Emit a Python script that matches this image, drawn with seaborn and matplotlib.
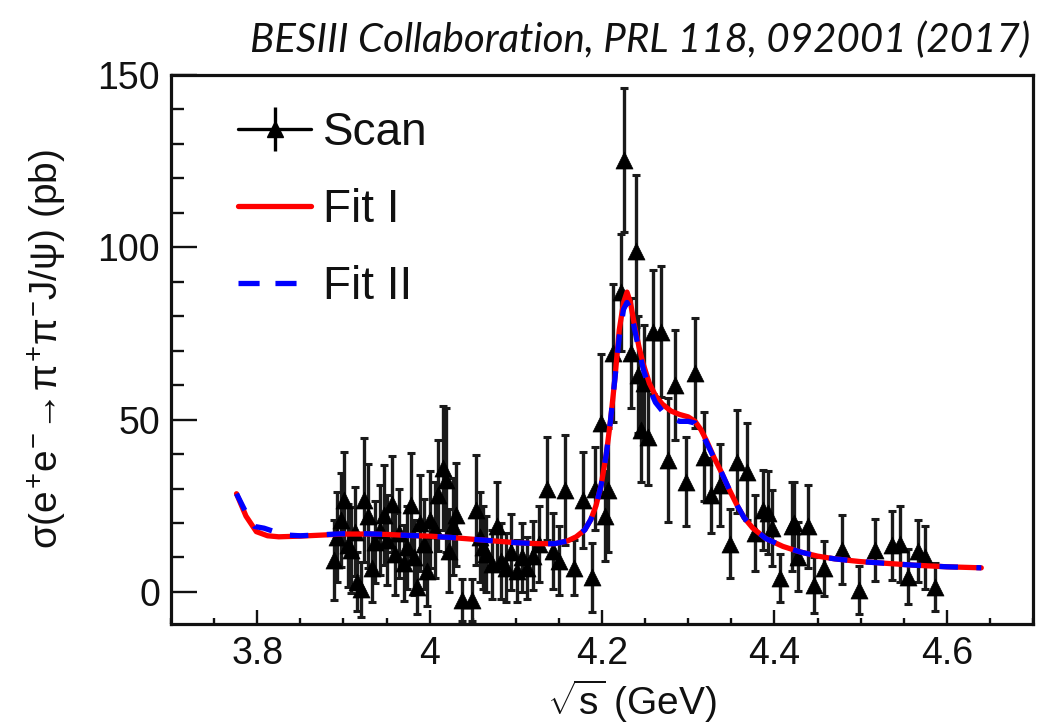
import numpy as np
import pandas as pd
import matplotlib
matplotlib.use("Agg")
import matplotlib.pyplot as plt
from matplotlib.lines import Line2D
from matplotlib.ticker import MultipleLocator, FuncFormatter
import seaborn as sns

# ---------------- data ----------------
scan_energy = [3.889, 3.893, 3.897, 3.901, 3.905, 3.909, 3.913, 3.916, 3.920, 3.924,
               3.928, 3.933, 3.937, 3.942, 3.947, 3.951, 3.956, 3.960, 3.965, 3.970,
               3.974, 3.978, 3.982, 3.985, 3.989, 3.993, 3.997, 4.001, 4.006, 4.010,
               4.015, 4.019, 4.023, 4.027, 4.031, 4.038, 4.049, 4.054, 4.058, 4.062,
               4.066, 4.072, 4.078, 4.083, 4.089, 4.095, 4.101, 4.107, 4.113, 4.120,
               4.127, 4.136, 4.143, 4.150, 4.157, 4.167, 4.178, 4.188, 4.192, 4.199,
               4.203, 4.207, 4.213, 4.222, 4.226, 4.234, 4.240, 4.242, 4.245, 4.249,
               4.253, 4.259, 4.268, 4.276, 4.285, 4.297, 4.308, 4.318, 4.326, 4.337,
               4.348, 4.357, 4.368, 4.377, 4.387, 4.393, 4.397, 4.406, 4.420, 4.423,
               4.427, 4.439, 4.446, 4.457, 4.478, 4.498, 4.517, 4.536, 4.546, 4.555,
               4.567, 4.575, 4.586]
scan_sigma = [9.3, 16.0, 20.9, 26.7, 13.5, 12.2, 17.5, 3.0, 0.8, 26.7,
              22.0, 7.0, 14.5, 18.0, 22.4, 15.0, 25.5, 11.0, 17.0, 8.3,
              13.0, 25.3, 10.0, 1.5, 20.0, 14.0, 6.0, 21.0, 18.0, 28.0,
              36.0, 32.5, 12.0, 19.0, 22.4, -2.3, -2.3, 23.8, 16.0, 13.0,
              11.0, 8.0, 19.0, 9.0, 7.0, 11.5, 6.0, 10.0, 7.0, 10.5,
              14.0, 30.0, 12.0, 9.0, 29.5, 7.0, 26.7, 4.3, 30.0, 49.0,
              22.0, 29.6, 69.3, 87.0, 125.3, 69.3, 99.0, 63.0, 47.0, 60.5,
              45.0, 75.5, 75.5, 38.3, 60.0, 32.0, 63.5, 39.3, 28.0, 31.0,
              14.0, 37.8, 34.9, 17.0, 23.8, 23.0, 18.5, 4.0, 19.0, 20.0,
              10.2, 19.0, 2.0, 6.9, 12.2, 0.6, 12.2, 13.6, 14.0, 4.4,
              12.0, 10.0, 1.5]
scan_error = [11.5, 13.0, 13.6, 14.0, 12.0, 12.5, 13.0, 8.5, 8.0, 18.0,
              15.0, 10.0, 12.0, 13.0, 14.5, 13.0, 14.0, 12.0, 13.0, 11.0,
              12.0, 15.0, 11.0, 8.0, 14.0, 13.0, 10.0, 14.0, 14.0, 16.0,
              18.0, 21.0, 12.0, 14.0, 15.0, 6.0, 6.0, 16.0, 13.0, 12.0,
              11.0, 10.0, 13.0, 11.0, 10.0, 11.0, 9.0, 10.0, 9.0, 10.0,
              11.0, 15.0, 11.0, 10.0, 16.0, 8.0, 14.0, 10.0, 12.0, 20.0,
              13.0, 18.0, 20.0, 17.0, 21.0, 16.0, 22.0, 17.0, 15.0, 17.0,
              14.0, 18.0, 19.0, 18.0, 16.0, 13.0, 16.0, 13.0, 11.0, 12.0,
              10.0, 15.0, 14.0, 11.0, 11.5, 12.0, 11.0, 7.0, 13.0, 12.0,
              10.0, 12.0, 8.0, 8.0, 10.0, 7.0, 9.0, 10.0, 11.0, 8.0,
              9.0, 9.0, 7.0]

fit1_energy = [3.776, 3.787, 3.799, 3.812, 3.825, 3.850, 3.875, 3.900, 3.925, 3.950,
               3.975, 4.000, 4.025, 4.050, 4.075, 4.100, 4.125, 4.145, 4.160, 4.170,
               4.180, 4.187, 4.193, 4.199, 4.205, 4.210, 4.215, 4.220, 4.225, 4.229,
               4.233, 4.238, 4.243, 4.248, 4.255, 4.262, 4.270, 4.280, 4.290, 4.300,
               4.308, 4.315, 4.322, 4.330, 4.338, 4.348, 4.357, 4.365, 4.375, 4.390,
               4.410, 4.430, 4.450, 4.470, 4.500, 4.530, 4.560, 4.600, 4.640]
fit1_sigma = [28.5, 22.0, 17.5, 16.3, 16.0, 16.2, 16.5, 16.8, 16.8, 16.7,
              16.4, 16.2, 15.8, 15.3, 14.8, 14.3, 14.0, 14.0, 14.8, 16.0,
              18.0, 21.0, 25.0, 31.0, 40.0, 50.0, 62.0, 76.0, 84.0, 87.0,
              84.0, 77.0, 71.0, 66.0, 60.5, 57.0, 54.5, 52.5, 51.5, 50.8,
              49.5, 47.0, 43.5, 39.0, 35.0, 29.5, 25.0, 21.5, 18.5, 15.5,
              13.2, 11.6, 10.4, 9.6, 8.8, 8.3, 7.8, 7.3, 7.0]

fit2_energy = [3.776, 3.787, 3.797, 3.808, 3.820, 3.835, 3.850, 3.875, 3.900, 3.925,
               3.950, 3.975, 4.000, 4.025, 4.050, 4.075, 4.100, 4.125, 4.145, 4.160,
               4.170, 4.180, 4.187, 4.193, 4.199, 4.205, 4.210, 4.215, 4.220, 4.225,
               4.229, 4.233, 4.238, 4.243, 4.248, 4.255, 4.262, 4.270, 4.280, 4.290,
               4.300, 4.308, 4.315, 4.322, 4.330, 4.338, 4.348, 4.357, 4.365, 4.375,
               4.390, 4.410, 4.430, 4.450, 4.470, 4.500, 4.530, 4.560, 4.600, 4.640]
fit2_sigma = [28.5, 23.0, 19.0, 18.5, 17.5, 16.5, 16.3, 16.6, 16.9, 16.9,
              16.7, 16.4, 16.2, 15.8, 15.3, 14.8, 14.3, 14.0, 14.0, 14.8,
              16.0, 18.0, 21.0, 25.0, 31.0, 40.0, 50.0, 62.0, 74.0, 82.0,
              84.0, 82.0, 76.0, 70.0, 64.5, 59.0, 55.0, 52.5, 50.5, 49.5,
              49.5, 49.0, 46.5, 43.0, 38.8, 35.0, 29.5, 25.0, 21.5, 18.5,
              15.5, 13.2, 11.6, 10.4, 9.6, 8.8, 8.3, 7.8, 7.3, 7.0]

x_ticks = [3.8, 4.0, 4.2, 4.4, 4.6]
y_ticks = [0, 50, 100, 150]

# ---------------- style ----------------
sns.set_style("white")
plt.rcParams['font.family'] = ['Liberation Sans', 'DejaVu Sans']
plt.rcParams['mathtext.fontset'] = 'custom'
plt.rcParams['mathtext.rm'] = 'Liberation Sans'
plt.rcParams['mathtext.it'] = 'Liberation Sans'
plt.rcParams['mathtext.bf'] = 'Liberation Sans:bold'
plt.rcParams['text.color'] = '#111111'
plt.rcParams['axes.labelcolor'] = '#111111'

scan = pd.DataFrame({"E": scan_energy, "sigma": scan_sigma, "err": scan_error})
fit1 = pd.DataFrame({"E": fit1_energy, "sigma": fit1_sigma})
fit2 = pd.DataFrame({"E": fit2_energy, "sigma": fit2_sigma})

fig = plt.figure(figsize=(10.45, 7.26), dpi=100)
ax = fig.add_axes([171/1045, 1-624/726, (1033-171)/1045, (624-75)/726])

ax.errorbar(scan["E"], scan["sigma"], yerr=scan["err"], fmt='none',
            ecolor='#1a1a1a', elinewidth=2.4, capsize=3.2, capthick=2.2, zorder=2)
sns.scatterplot(data=scan, x="E", y="sigma", marker='^', s=150, color='black',
                edgecolor='black', linewidth=0.5, ax=ax, zorder=3)
sns.lineplot(data=fit1, x="E", y="sigma", color='#ff0000', linewidth=3.8,
             sort=False, estimator=None, ax=ax, zorder=4)
sns.lineplot(data=fit2, x="E", y="sigma", color='#0000ff', linewidth=3.8,
             linestyle=(0, (3.5, 3.5)), sort=False, estimator=None, ax=ax, zorder=5)

ax.set_xlim(3.70, 4.70)
ax.set_ylim(-9.3, 150)
ax.set_xticks(x_ticks)
ax.set_yticks(y_ticks)
ax.xaxis.set_major_formatter(FuncFormatter(lambda v, p: f"{v:g}"))
ax.xaxis.set_minor_locator(MultipleLocator(0.05))
ax.yaxis.set_minor_locator(MultipleLocator(10))
ax.tick_params(axis='both', which='both', direction='in', left=True, bottom=True,
               top=False, right=False, labelsize=27, width=1.7,
               color='#111111', labelcolor='#111111')
ax.tick_params(axis='y', which='major', length=18.5, pad=8)
ax.tick_params(axis='y', which='minor', length=9)
ax.tick_params(axis='x', which='major', length=10, pad=9)
ax.tick_params(axis='x', which='minor', length=4.5)
for s in ax.spines.values():
    s.set_linewidth(2.3)
    s.set_color('#111111')

ax.set_xlabel(r'$\sqrt{s}$ (GeV)', fontsize=28)
ax.xaxis.set_label_coords((632-171)/862, -0.097)
ax.set_ylabel(r'$\sigma(e^{+}e^{-}\!\rightarrow\!\pi^{+}\pi^{-}J/\psi)$ (pb)', fontsize=28)
ax.yaxis.set_label_coords(-0.118, 0.5)

h_scan = (Line2D([], [], color='black', lw=2.4),
          Line2D([], [], color='black', marker='|', markersize=32, mew=2.4, ls='none'),
          Line2D([], [], color='black', marker='^', markersize=11, ls='none'))
h_fit1 = Line2D([], [], color='#ff0000', lw=3.8)
h_fit2 = Line2D([], [], color='#0000ff', lw=3.8, linestyle=(0, (4, 3)))
ax.legend([h_scan, h_fit1, h_fit2], ['Scan', 'Fit I', 'Fit II'],
          loc='upper left', bbox_to_anchor=((238-171)/862, 1-(111-75)/549),
          frameon=False, fontsize=33, handlelength=1.6, handletextpad=0.25,
          labelspacing=0.72, borderpad=0, borderaxespad=0)

fig.text(1030/1045, 1-40/726, 'BESIII Collaboration, PRL 118, 092001 (2017)',
         ha='right', va='center', fontsize=29, style='italic',
         family=['Lato', 'DejaVu Sans'])

fig.savefig('out.png', dpi=100)
